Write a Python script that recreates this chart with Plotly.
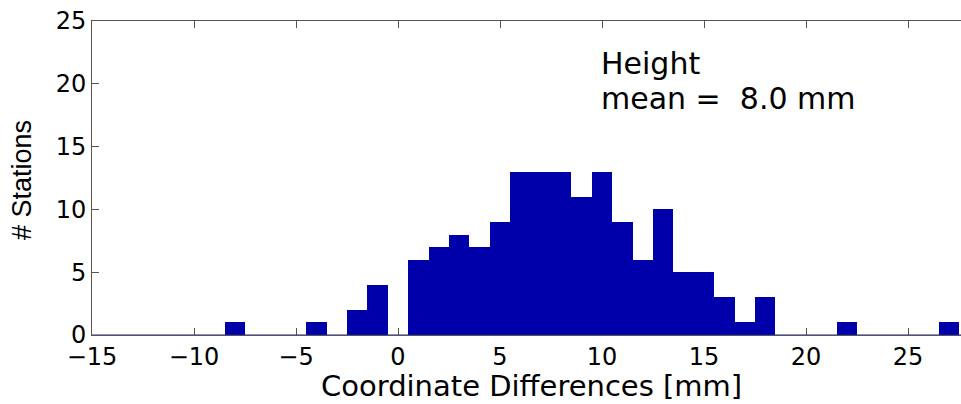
import plotly.graph_objects as go

# Histogram of height coordinate differences (1 mm bins, centred on integers)
bin_centers = list(range(-8, 28))
station_counts = [1, 0, 0, 0, 1, 0, 2, 4, 0, 6, 7, 8, 7, 9, 13, 13, 13, 11,
                  13, 9, 6, 10, 5, 5, 3, 1, 3, 0, 0, 0, 1, 0, 0, 0, 0, 1]
x_ticks = [-15, -10, -5, 0, 5, 10, 15, 20, 25]
y_ticks = [0, 5, 10, 15, 20, 25]
component = "Height"

mean_val = sum(c * n for c, n in zip(bin_centers, station_counts)) / sum(station_counts)

W, H = 961, 404
L, R, T, B = 92, 961, 21, 335
BAR_BLUE = "#0000AA"
AX_GRAY = "#555555"
TICK_FONT = dict(family="DejaVu Sans", size=24, color="black")


def px_x(p):
    return (p - L) / (R - L)


def px_y(p):
    return (B - p) / (B - T)


fig = go.Figure()
fig.add_trace(go.Bar(
    x=bin_centers, y=station_counts, width=1,
    marker=dict(color=BAR_BLUE, line=dict(width=0)),
    hoverinfo="x+y",
))

fig.update_layout(
    width=W, height=H,
    margin=dict(l=L, r=W - R, t=T, b=H - B),
    paper_bgcolor="white", plot_bgcolor="white",
    showlegend=False, bargap=0,
    xaxis=dict(
        range=[-15, -15 + (R - L) / 20.4],
        tickmode="array", tickvals=x_ticks,
        ticktext=[str(v).replace("-", "\u2212") for v in x_ticks],
        ticks="inside", ticklen=7, tickcolor=AX_GRAY, tickwidth=1,
        showline=True, linecolor=AX_GRAY, linewidth=1, mirror="ticks",
        showgrid=False, zeroline=False, layer="below traces",
        tickfont=TICK_FONT, ticklabelstandoff=0,
    ),
    yaxis=dict(
        range=[0, 25],
        tickmode="array", tickvals=y_ticks,
        ticks="inside", ticklen=7, tickcolor=AX_GRAY, tickwidth=1,
        showline=True, linecolor=AX_GRAY, linewidth=1, mirror=False,
        showgrid=False, zeroline=False, layer="below traces",
        tickfont=TICK_FONT, ticklabelstandoff=0,
    ),
    shapes=[dict(
        type="line", xref="paper", yref="y", x0=0, x1=1, y0=0, y1=0,
        line=dict(color="#2020A0", width=1.2), layer="above",
    )],
    annotations=[
        dict(text="Coordinate Differences [mm]", xref="paper", yref="paper",
             x=px_x(531), y=px_y(386), xanchor="center", yanchor="middle",
             showarrow=False, font=dict(family="DejaVu Sans", size=29, color="black")),
        dict(text="# Stations", xref="paper", yref="paper", textangle=-90,
             x=px_x(22), y=px_y(180), xanchor="center", yanchor="middle",
             showarrow=False, font=dict(family="Liberation Sans", size=27, color="black")),
        dict(text=component, xref="paper", yref="paper",
             x=px_x(599), y=px_y(64), xanchor="left", yanchor="middle",
             showarrow=False, font=dict(family="DejaVu Sans", size=30, color="black")),
        dict(text=f"mean =\u00a0 {mean_val:.1f} mm", xref="paper", yref="paper",
             x=px_x(599), y=px_y(98.5), xanchor="left", yanchor="middle",
             showarrow=False, font=dict(family="DejaVu Sans", size=30, color="black")),
    ],
)

fig.write_html("out.html", config={"displayModeBar": False})
